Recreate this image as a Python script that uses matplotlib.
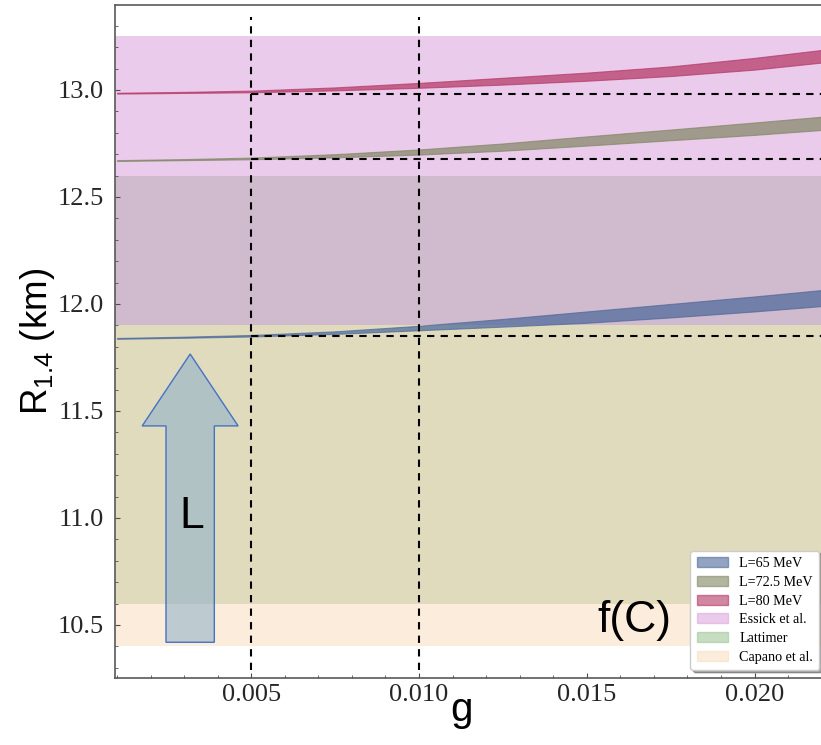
import matplotlib
matplotlib.use("Agg")
import matplotlib.pyplot as plt
import matplotlib.patches as mpatches
from matplotlib.ticker import MultipleLocator
import numpy as np

plt.rcParams['mathtext.fontset'] = 'custom'
plt.rcParams['mathtext.rm'] = 'Liberation Sans'
plt.rcParams['mathtext.it'] = 'Liberation Sans:italic'

# g grid and the R_1.4 bands
g = [0.001, 0.003, 0.005, 0.0075, 0.010, 0.0125, 0.015, 0.0175, 0.020, 0.022]
r65_lo = [11.837, 11.842, 11.848, 11.860, 11.877, 11.894, 11.912, 11.937, 11.965, 11.990]
r65_hi = [11.841, 11.847, 11.855, 11.872, 11.898, 11.930, 11.965, 12.000, 12.035, 12.065]
r725_lo = [12.668, 12.672, 12.676, 12.685, 12.698, 12.716, 12.740, 12.765, 12.790, 12.813]
r725_hi = [12.672, 12.677, 12.684, 12.700, 12.722, 12.750, 12.783, 12.815, 12.848, 12.875]
r80_lo = [12.983, 12.986, 12.989, 12.998, 13.010, 13.025, 13.043, 13.065, 13.095, 13.128]
r80_hi = [12.987, 12.991, 12.997, 13.012, 13.033, 13.057, 13.081, 13.110, 13.150, 13.187]

# observational constraints (km)
essick = (11.9, 13.25)
lattimer = (10.6, 12.6)
capano = (10.4, 11.9)

g_marks = [0.005, 0.010]
r_marks = [12.982, 12.677, 11.852]

fig = plt.figure(figsize=(8.21, 7.45), dpi=100)
ax = fig.add_axes([115/821, 67/745, 708/821, 673/745])

# background bands
ax.axhspan(*lattimer, color='#91bd87', alpha=0.5, lw=0, zorder=1)
ax.axhspan(*capano, color='#f9dbb9', alpha=0.5, lw=0, zorder=1.1)
ax.axhspan(*essick, color='#d999d9', alpha=0.5, lw=0, zorder=1.2)

# L bands
ax.fill_between(g, r65_lo, r65_hi, color='#4a679a', alpha=0.7, lw=0.8, zorder=2)
ax.fill_between(g, r725_lo, r725_hi, color='#7f8663', alpha=0.7, lw=0.8, zorder=2)
ax.fill_between(g, r80_lo, r80_hi, color='#b33563', alpha=0.7, lw=0.8, zorder=2)

# dashed guides
for gm in g_marks:
    ax.plot([gm, gm], [10.29, 13.34], color='black', lw=1.5, dashes=(3.5, 3), zorder=3)
for rm in r_marks:
    ax.plot([0.005, 0.0225], [rm, rm], color='black', lw=1.5, dashes=(3.5, 3), zorder=3)

# arrow for L
arr = mpatches.FancyArrow(0.00318, 10.419, 0, 1.347, width=0.00144, head_width=0.00286,
                          head_length=0.336, length_includes_head=True,
                          facecolor='#8aaec8', alpha=0.55, edgecolor='none', zorder=4)
ax.add_patch(arr)
arr_edge = mpatches.FancyArrow(0.00318, 10.419, 0, 1.347, width=0.00144, head_width=0.00286,
                               head_length=0.336, length_includes_head=True,
                               facecolor='none', edgecolor='#4472c4', lw=1.0, zorder=4.1)
ax.add_patch(arr_edge)
ax.text(0.003213, 11.008, 'L', fontsize=32, family='Liberation Sans', ha='center', va='center', zorder=5)
ax.text(0.01643, 10.523, 'f(C)', fontsize=32, family='Liberation Sans', ha='center', va='center', zorder=5)

ax.set_xlim(0.00094, 0.02204)
ax.set_ylim(10.252, 13.397)

ax.xaxis.set_major_locator(MultipleLocator(0.005))
ax.xaxis.set_minor_locator(MultipleLocator(0.001))
ax.yaxis.set_major_locator(MultipleLocator(0.5))
ax.yaxis.set_minor_locator(MultipleLocator(0.1))
ax.xaxis.set_major_formatter(plt.FuncFormatter(lambda v, p: f'{v:.3f}'))
ax.yaxis.set_major_formatter(plt.FuncFormatter(lambda v, p: f'{v:.1f}'))
ax.tick_params(which='both', direction='in', top=False, right=False, color='0.3', labelcolor='0.15')
ax.tick_params(which='major', length=3.5, width=0.8)
ax.tick_params(which='minor', length=2, width=0.6)
ax.tick_params(axis='x', pad=4)
ax.tick_params(axis='y', pad=8)
for lab in ax.get_xticklabels() + ax.get_yticklabels():
    lab.set_fontfamily('Liberation Serif')
    lab.set_fontsize(19)
for sp in ax.spines.values():
    sp.set_color('0.35')
    sp.set_linewidth(1.2)

ax.set_xlabel('g', fontsize=29, family='Liberation Sans')
ax.xaxis.set_label_coords(0.49, -0.02)
ax.set_ylabel(r'R$_{\mathrm{1.4}}$ (km)', fontsize=26.5, family='Liberation Sans')
ax.yaxis.set_label_coords(-0.082, 0.5)

handles = [
    mpatches.Patch(color='#4a679a', alpha=0.6, label='L=65 MeV'),
    mpatches.Patch(color='#7f8663', alpha=0.6, label='L=72.5 MeV'),
    mpatches.Patch(color='#b33563', alpha=0.6, label='L=80 MeV'),
    mpatches.Patch(color='#d999d9', alpha=0.5, label='Essick et al.'),
    mpatches.Patch(color='#91bd87', alpha=0.5, label='Lattimer'),
    mpatches.Patch(color='#f9dbb9', alpha=0.5, label='Capano et al.'),
]
leg = ax.legend(handles=handles, loc='lower right', bbox_to_anchor=(0.995, 0.012),
                borderaxespad=0, frameon=True, fancybox=True, shadow=True, framealpha=1,
                edgecolor='0.8', prop={'family': 'Liberation Serif', 'size': 10.2},
                labelspacing=0.4, handlelength=2.2, borderpad=0.45)
leg.set_zorder(6)

fig.savefig('out.png', dpi=100)
